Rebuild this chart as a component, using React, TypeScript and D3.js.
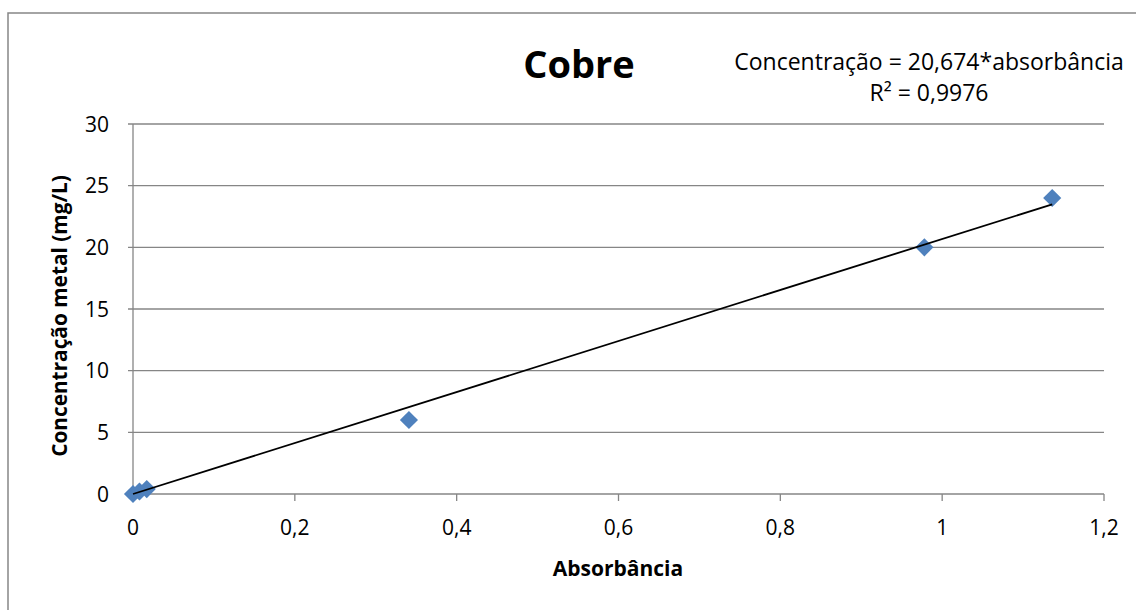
import React from "react";
import * as d3 from "d3";

// Calibration data: copper (Cobre)
const absorbance = [0, 0.008, 0.017, 0.341, 0.978, 1.136];
const concentration = [0, 0.2, 0.4, 6, 20, 24];
const slope = 20.674;
const rSquared = "0,9976";
const xTicks = [0, 0.2, 0.4, 0.6, 0.8, 1, 1.2];
const yTicks = [0, 5, 10, 15, 20, 25, 30];

const W = 1136;
const H = 610;
const margin = { left: 133, right: 32, top: 124, bottom: 116 };
const FONT = "'Open Sans', 'Noto Sans', sans-serif";

const fmt = (v: number) => String(v).replace(".", ",");

export default function App() {
  const x = d3.scaleLinear().domain([0, 1.2]).range([margin.left, W - margin.right]);
  const y = d3.scaleLinear().domain([0, 30]).range([H - margin.bottom, margin.top]);
  const pts = absorbance.map((a, i) => ({ a, c: concentration[i] }));
  const xMax = d3.max(absorbance) as number;
  const trend = d3.line<number>().x((a) => x(a)).y((a) => y(slope * a))([0, xMax]) as string;
  const diamond = d3.symbol().type(d3.symbolDiamond2).size(210)() as string;
  const gridColor = "#868686";

  return (
    <svg
      width={W}
      height={H}
      style={{ position: "absolute", left: 0, top: 0, background: "#fff" }}
      fontFamily={FONT}
    >
      <rect x={8} y={13} width={W} height={H} fill="#fff" stroke={gridColor} strokeWidth={1.5} />
      {/* horizontal gridlines */}
      {yTicks.map((t) => (
        <g key={"y" + t}>
          <line x1={x(0) - 5} x2={x(1.2)} y1={y(t)} y2={y(t)} stroke={gridColor} strokeWidth={1.3} />
          <text x={x(0) - 24} y={y(t)} dy="0.36em" textAnchor="end" fontSize={21} fill="#000">
            {t}
          </text>
        </g>
      ))}
      {/* y axis */}
      <line x1={x(0)} x2={x(0)} y1={y(30)} y2={y(0)} stroke={gridColor} strokeWidth={1.3} />
      {/* x axis ticks */}
      {xTicks.map((t) => (
        <g key={"x" + t}>
          <line x1={x(t)} x2={x(t)} y1={y(0)} y2={y(0) + 7} stroke={gridColor} strokeWidth={1.3} />
          <text x={x(t)} y={y(0) + 41} textAnchor="middle" fontSize={21} fill="#000">
            {fmt(t)}
          </text>
        </g>
      ))}
      {/* data markers */}
      {pts.map((p, i) => (
        <path key={i} d={diamond} transform={`translate(${x(p.a)},${y(p.c)})`} fill="#4F81BD" />
      ))}
      {/* linear trendline through origin */}
      <path d={trend} fill="none" stroke="#000" strokeWidth={1.8} />
      {/* titles */}
      <text x={579} y={78} textAnchor="middle" fontSize={38} fontWeight="bold" fill="#000">
        Cobre
      </text>
      <text x={929} y={70} textAnchor="middle" fontSize={23} fill="#000">
        Concentração = 20,674*absorbância
      </text>
      <text x={929} y={101} textAnchor="middle" fontSize={23} fill="#000">
        R² = {rSquared}
      </text>
      <text x={618} y={576} textAnchor="middle" fontSize={21} fontWeight="bold" fill="#000">
        Absorbância
      </text>
      <text
        transform={`translate(67,${(y(0) + y(30)) / 2 + 7}) rotate(-90)`}
        textAnchor="middle"
        fontSize={20.8}
        fontWeight="bold"
        fill="#000"
      >
        Concentração metal (mg/L)
      </text>
    </svg>
  );
}
